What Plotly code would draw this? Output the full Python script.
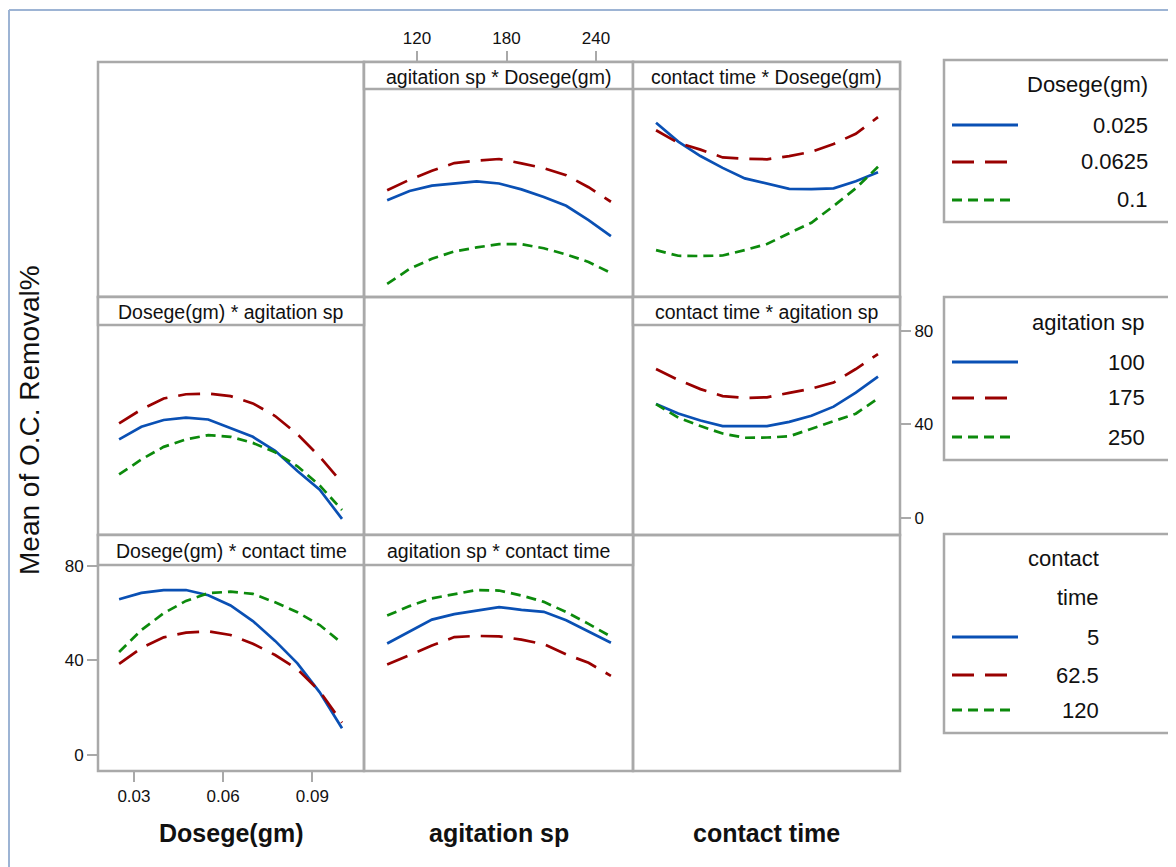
import plotly.graph_objects as go

# ---------------- data ----------------
dosege = [0.025, 0.0325, 0.04, 0.0475, 0.055, 0.0625, 0.07, 0.0775, 0.085, 0.0925, 0.1]
agitation = [100, 115, 130, 145, 160, 175, 190, 205, 220, 235, 250]
contact = [5, 16.5, 28, 39.5, 51, 62.5, 74, 85.5, 97, 108.5, 120]

dosege_levels = ["0.025", "0.0625", "0.1"]
agitation_levels = ["100", "175", "250"]
contact_levels = ["5", "62.5", "120"]

# panel: agitation sp (x) * Dosege(gm) (series)
agit_by_dose_025 = [28.6, 32.0, 34.0, 34.8, 35.6, 34.8, 32.6, 29.8, 26.5, 21.2, 15.2]
agit_by_dose_0625 = [32.3, 36.2, 39.5, 42.4, 43.3, 43.9, 42.3, 40.5, 37.9, 33.4, 28.0]
agit_by_dose_1 = [-2.6, 3.0, 6.8, 9.5, 11.0, 12.2, 12.2, 10.7, 8.4, 5.6, 1.5]

# panel: contact time (x) * Dosege(gm) (series)
cont_by_dose_025 = [57.4, 50.4, 45.0, 40.6, 36.7, 34.8, 32.8, 32.7, 33.0, 35.6, 39.0]
cont_by_dose_0625 = [54.6, 49.9, 47.4, 44.5, 44.0, 43.8, 45.0, 46.6, 49.5, 53.3, 59.5]
cont_by_dose_1 = [10.0, 7.9, 7.8, 8.0, 10.0, 12.3, 16.3, 20.2, 26.4, 33.0, 41.0]

# panel: Dosege(gm) (x) * agitation sp (series)
dose_by_agit_100 = [33.5, 38.9, 41.8, 42.8, 42.0, 38.3, 34.6, 28.6, 20.0, 12.0, -0.5]
dose_by_agit_175 = [40.3, 46.3, 51.0, 52.8, 53.1, 52.0, 48.9, 43.5, 35.7, 26.1, 15.0]
dose_by_agit_250 = [18.5, 24.9, 30.3, 33.5, 35.3, 34.6, 32.0, 28.0, 22.0, 13.8, 3.3]

# panel: contact time (x) * agitation sp (series)
cont_by_agit_100 = [48.6, 44.6, 41.6, 39.2, 39.2, 39.2, 41.0, 43.6, 47.5, 53.5, 60.3]
cont_by_agit_175 = [63.6, 58.9, 55.0, 52.0, 51.2, 51.5, 53.4, 55.2, 57.8, 63.6, 70.0]
cont_by_agit_250 = [48.6, 42.8, 39.2, 36.0, 34.2, 34.3, 34.8, 38.0, 41.2, 44.5, 51.0]

# panel: Dosege(gm) (x) * contact time (series)
dose_by_cont_5 = [65.9, 68.6, 69.8, 69.8, 67.6, 63.3, 56.7, 48.3, 38.8, 26.5, 11.3]
dose_by_cont_625 = [38.6, 45.3, 49.8, 51.8, 52.3, 50.8, 47.1, 42.3, 36.3, 27.0, 13.7]
dose_by_cont_120 = [43.6, 52.9, 60.0, 65.2, 68.5, 69.1, 68.2, 64.6, 60.4, 55.0, 47.3]

# panel: agitation sp (x) * contact time (series)
agit_by_cont_5 = [47.2, 52.2, 57.3, 59.6, 61.2, 62.6, 61.4, 60.6, 57.0, 52.1, 47.5]
agit_by_cont_625 = [38.3, 42.3, 46.3, 49.9, 50.4, 50.2, 48.8, 46.9, 42.6, 39.0, 33.5]
agit_by_cont_120 = [59.0, 63.0, 66.3, 68.2, 69.8, 69.6, 67.5, 64.8, 60.5, 55.5, 50.1]

panel_titles = ["agitation sp * Dosege(gm)", "contact time * Dosege(gm)",
                "Dosege(gm) * agitation sp", "contact time * agitation sp",
                "Dosege(gm) * contact time", "agitation sp * contact time"]
x_titles = ["Dosege(gm)", "agitation sp", "contact time"]
y_title = "Mean of O.C. Removal%"
dose_ticks = [0.03, 0.06, 0.09]
agit_ticks = [120, 180, 240]
cont_ticks = [0, 50, 100]
y_ticks = [0, 40, 80]

# ---------------- styling ----------------
PAGE_W, PAGE_H = 1176, 867
OFF = 8  # default body margin of the html page
W, H = PAGE_W - OFF, PAGE_H - OFF
BLUE, RED, GREEN = "#0a50b4", "#990000", "#0c8a0c"
STYLES = [(BLUE, "solid"), (RED, "22px,11px"), (GREEN, "10px,6px")]
GRID = "#a9a9a9"
SANS = "Liberation Sans, Arial, sans-serif"
TXT = "#111111"

def X(px):
    return (px - OFF) / W

def Y(py):
    return 1 - (py - OFF) / H

COLS = [98, 364, 633, 900]
ROWS = [62, 297, 535, 771]
STRIP_BOTTOM = [89, 325, 565]

# axis ranges matched to pixel calibration of the reference
RNG_DOSE = [0.0179, 0.1074]
RNG_AGIT = [84.47, 264.8]
RNG_CONT = [-6.94, 131.4]
RNG_ROW = [[-7.44, 80.0], [-7.40, 94.4], [-6.77, 93.1]]

fig = go.Figure()

# axis index -> (row, col, xrange)
panels = {
    1: (0, 0, RNG_DOSE),   # empty, carries row-1 y ticks
    2: (0, 1, RNG_AGIT),
    3: (0, 2, RNG_CONT),
    4: (1, 0, RNG_DOSE),
    5: (1, 2, RNG_CONT),   # carries row-2 y ticks (right)
    6: (2, 0, RNG_DOSE),   # carries dosege ticks + row-3 y ticks
    7: (2, 1, RNG_AGIT),
    8: (2, 2, RNG_CONT),   # empty, carries contact ticks
}

tickfont = dict(family=SANS, size=17, color=TXT)
for k, (r, c, xr) in panels.items():
    xa = dict(domain=[X(COLS[c]), X(COLS[c + 1])], range=xr, showgrid=False,
              zeroline=False, showline=False, showticklabels=False, ticks="",
              anchor="y%d" % k if k > 1 else "y", fixedrange=True)
    ya = dict(domain=[Y(ROWS[r + 1]), Y(ROWS[r])], range=RNG_ROW[r], showgrid=False,
              zeroline=False, showline=False, showticklabels=False, ticks="",
              anchor="x%d" % k if k > 1 else "x", fixedrange=True)
    tick_common = dict(ticks="outside", ticklen=10, tickwidth=2, tickcolor=GRID,
                       showticklabels=True, tickfont=tickfont)
    if k == 2:
        xa.update(tick_common, side="top", tickvals=agit_ticks, ticktext=[str(v) for v in agit_ticks])
    if k == 6:
        xa.update(tick_common, side="bottom", tickvals=dose_ticks, ticktext=["%.2f" % v for v in dose_ticks])
    if k == 8:
        xa.update(tick_common, side="bottom", tickvals=cont_ticks, ticktext=[str(v) for v in cont_ticks])
    if k in (1, 6):
        ya.update(tick_common, side="left", tickvals=y_ticks, ticktext=[str(v) for v in y_ticks])
    if k == 5:
        ya.update(tick_common, side="right", tickvals=y_ticks, ticktext=[str(v) for v in y_ticks])
    fig.update_layout(**{("xaxis" if k == 1 else "xaxis%d" % k): xa,
                         ("yaxis" if k == 1 else "yaxis%d" % k): ya})

def add_panel(k, xs, series, names):
    for (color, dash), ys, nm in zip(STYLES, series, names):
        fig.add_trace(go.Scatter(x=xs, y=ys, mode="lines", name=nm, showlegend=False,
                                 line=dict(color=color, width=2.7, dash=dash),
                                 xaxis="x" if k == 1 else "x%d" % k,
                                 yaxis="y" if k == 1 else "y%d" % k,
                                 hoverinfo="x+y+name"))

add_panel(2, agitation, [agit_by_dose_025, agit_by_dose_0625, agit_by_dose_1], dosege_levels)
add_panel(3, contact, [cont_by_dose_025, cont_by_dose_0625, cont_by_dose_1], dosege_levels)
add_panel(4, dosege, [dose_by_agit_100, dose_by_agit_175, dose_by_agit_250], agitation_levels)
add_panel(5, contact, [cont_by_agit_100, cont_by_agit_175, cont_by_agit_250], agitation_levels)
add_panel(6, dosege, [dose_by_cont_5, dose_by_cont_625, dose_by_cont_120], contact_levels)
add_panel(7, agitation, [agit_by_cont_5, agit_by_cont_625, agit_by_cont_120], contact_levels)

shapes = []
annotations = []

def rect(x0, y0, x1, y1, color=GRID, width=2.5, fill=None):
    d = dict(type="rect", xref="paper", yref="paper", x0=X(x0), x1=X(x1), y0=Y(y1), y1=Y(y0),
             line=dict(color=color, width=width), layer="above")
    if fill:
        d["fillcolor"] = fill
    shapes.append(d)

def hline(x0, x1, y, color, width, dash="solid"):
    shapes.append(dict(type="line", xref="paper", yref="paper", x0=X(x0), x1=X(x1), y0=Y(y), y1=Y(y),
                       line=dict(color=color, width=width, dash=dash), layer="above"))

def text(x, y, s, size, family=SANS, xanchor="center", bold=False, angle=0):
    annotations.append(dict(xref="paper", yref="paper", x=X(x), y=Y(y), text=("<b>%s</b>" % s) if bold else s,
                            showarrow=False, xanchor=xanchor, yanchor="middle", textangle=angle,
                            font=dict(family=family, size=size, color=TXT)))

# outer light-blue frame
shapes.append(dict(type="line", xref="paper", yref="paper", x0=X(9), x1=X(9), y0=Y(10), y1=0,
                   line=dict(color="#9db4d4", width=2), layer="below"))
shapes.append(dict(type="line", xref="paper", yref="paper", x0=X(9), x1=1, y0=Y(10), y1=Y(10),
                   line=dict(color="#9db4d4", width=2), layer="below"))

# panel borders
for r in range(3):
    for c in range(3):
        rect(COLS[c], ROWS[r], COLS[c + 1], ROWS[r + 1])

# strips
strip_cells = [(0, 1), (0, 2), (1, 0), (1, 2), (2, 0), (2, 1)]
for (r, c), t in zip(strip_cells, panel_titles):
    rect(COLS[c], ROWS[r], COLS[c + 1], STRIP_BOTTOM[r], fill="white")
    text((COLS[c] + COLS[c + 1]) / 2, (ROWS[r] + STRIP_BOTTOM[r]) / 2 + 1, t, 19.5)

# axis titles
for c, t in enumerate(x_titles):
    text((COLS[c] + COLS[c + 1]) / 2, 833, t, 25, bold=True)
text(29, 420, y_title, 28, angle=-90)

# legends
def legend_box(y0, y1, titles, title_ys, labels, item_ys, right):
    rect(944, y0, 1171, y1)
    for t, ty in zip(titles, title_ys):
        text(right, ty, t, 22, xanchor="right")
    for (color, dash), lab, iy in zip(STYLES, labels, item_ys):
        end = {"solid": 1018, "22px,11px": 1008, "10px,6px": 1014}[dash]
        hline(952, end, iy, color, 3, dash)
        text(right, iy, lab, 22, xanchor="right")

legend_box(60, 222, ["Dosege(gm)"], [85], dosege_levels, [125, 162, 200], 1150)
legend_box(297, 460, ["agitation sp"], [322], agitation_levels, [362, 398, 437], 1147)
legend_box(534, 733, ["contact", "time"], [558, 597], contact_levels, [637, 675, 710], 1101)

fig.update_layout(width=W, height=H, margin=dict(l=0, r=0, t=0, b=0),
                  paper_bgcolor="white", plot_bgcolor="white", showlegend=False,
                  shapes=shapes, annotations=annotations)

fig.write_html("out.html")
